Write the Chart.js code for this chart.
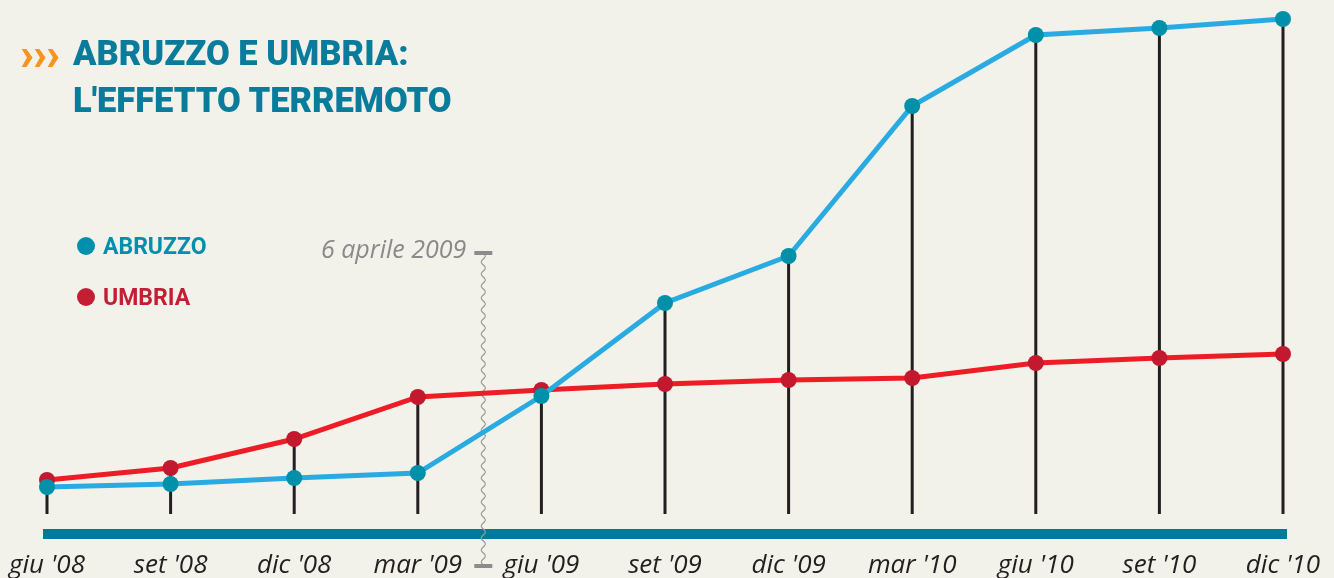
<!DOCTYPE html>
<html>
<head>
<meta charset="utf-8">
<script src="https://cdn.jsdelivr.net/npm/chart.js@4.4.0/dist/chart.umd.min.js"></script>
<style>
  html, body { margin: 0; padding: 0; background: #f2f1ea; }
  #wrap { position: relative; width: 1334px; height: 578px; overflow: hidden; background: #f2f1ea; }
  #c { position: absolute; left: 0; top: 0; }
  .title { position: absolute; font-family: Roboto, sans-serif; font-weight: 900; font-size: 34.5px; color: #0a7c9b; line-height: 47px; white-space: nowrap; }
  .chev { position: absolute; left: 20px; top: 29px; font-family: Roboto, sans-serif; font-weight: 900; font-size: 46px; color: #f7941d; letter-spacing: -1px; line-height: 50px; }
  .leg { position: absolute; font-family: Roboto, sans-serif; font-weight: 700; font-size: 23px; line-height: 26px; white-space: nowrap; }
  .dot { position: absolute; width: 18px; height: 18px; border-radius: 50%; }
</style>
</head>
<body>
<div id="wrap">
  <canvas id="c" width="1334" height="578"></canvas>
  <div class="chev">›››</div>
  <div class="title" style="left:73px; top:30px;">ABRUZZO E UMBRIA:<br>L'EFFETTO TERREMOTO</div>
  <div class="dot" style="left:77px; top:237px; background:#0090ad;"></div>
  <div class="leg" style="left:103px; top:234px; color:#0090ad;">ABRUZZO</div>
  <div class="dot" style="left:77px; top:288px; background:#c41e35;"></div>
  <div class="leg" style="left:103px; top:285px; color:#c41e35;">UMBRIA</div>
</div>
<script>
const categories = ["giu '08", "set '08", "dic '08", "mar '09", "giu '09", "set '09", "dic '09", "mar '10", "giu '10", "set '10", "dic '10"];
const abruzzo = [5.4, 6.0, 7.2, 8.2, 23.6, 42.2, 51.6, 81.6, 95.8, 97.2, 99.0];
const umbria  = [6.8, 9.2, 15.0, 23.4, 24.8, 26.0, 26.8, 27.2, 30.2, 31.2, 32.0];
const eventLabel = "6 aprile 2009";
const eventPosition = 3.53; // between mar '09 and giu '09

const decor = {
  id: 'decor',
  beforeDatasetsDraw(chart) {
    const ctx = chart.ctx;
    const x = chart.scales.x, y = chart.scales.y;
    const area = chart.chartArea;
    ctx.save();
    ctx.strokeStyle = '#231f20';
    ctx.lineWidth = 3;
    for (let i = 0; i < categories.length; i++) {
      const top = y.getPixelForValue(Math.max(abruzzo[i], umbria[i]));
      const px = x.getPixelForValue(i);
      ctx.beginPath();
      ctx.moveTo(px, top);
      ctx.lineTo(px, area.bottom);
      ctx.stroke();
    }
    ctx.fillStyle = '#007a9b';
    const x0 = x.getPixelForValue(0) - 4, x1 = x.getPixelForValue(categories.length - 1) + 4;
    ctx.fillRect(x0, area.bottom + 15, x1 - x0, 10);
    const ex = x.getPixelForValue(3) + (x.getPixelForValue(4) - x.getPixelForValue(3)) * (eventPosition - 3);
    const yTop = 253, yBot = 566;
    ctx.strokeStyle = '#9a9a9a';
    ctx.lineWidth = 1.2;
    ctx.beginPath();
    for (let yy = yTop; yy <= yBot; yy += 1) {
      const xx = ex + 2 * Math.sin((yy - yTop) / 12 * 2 * Math.PI);
      if (yy === yTop) ctx.moveTo(xx, yy); else ctx.lineTo(xx, yy);
    }
    ctx.stroke();
    ctx.fillStyle = '#8c8c8c';
    ctx.fillRect(ex - 9, yTop - 2, 18, 4);
    ctx.fillRect(ex - 9, yBot - 2, 18, 4);
    ctx.font = 'italic 25px "Open Sans", sans-serif';
    ctx.fillStyle = '#8a8a8a';
    ctx.textAlign = 'right';
    ctx.textBaseline = 'alphabetic';
    ctx.fillText(eventLabel, ex - 17, 258);
    ctx.restore();
  }
};

new Chart(document.getElementById('c'), {
  type: 'line',
  data: {
    labels: categories,
    datasets: [
      {
        label: 'ABRUZZO', data: abruzzo,
        borderColor: '#29abe2', borderWidth: 5,
        pointBackgroundColor: '#0090aa', pointBorderWidth: 0, pointRadius: 8, pointHoverRadius: 8,
        tension: 0, clip: false
      },
      {
        label: 'UMBRIA', data: umbria,
        borderColor: '#ee1c25', borderWidth: 5,
        pointBackgroundColor: '#c4182f', pointBorderWidth: 0, pointRadius: 8, pointHoverRadius: 8,
        tension: 0, clip: false
      }
    ]
  },
  options: {
    responsive: false,
    animation: false,
    events: [],
    layout: { padding: { left: 47, right: 51, top: 14, bottom: 0 } },
    plugins: { legend: { display: false }, tooltip: { enabled: false } },
    scales: {
      y: { display: false, min: 0, max: 100 },
      x: {
        offset: false,
        grid: { display: false, drawTicks: false },
        border: { display: false },
        afterFit(scale) { scale.height = 64; scale.paddingLeft = 0; scale.paddingRight = 0; },
        ticks: {
          padding: 36, autoSkip: false, maxRotation: 0,
          color: '#231f20',
          font: { family: '"Open Sans", sans-serif', style: 'italic', size: 26 }
        }
      }
    }
  },
  plugins: [decor]
});
</script>
</body>
</html>
